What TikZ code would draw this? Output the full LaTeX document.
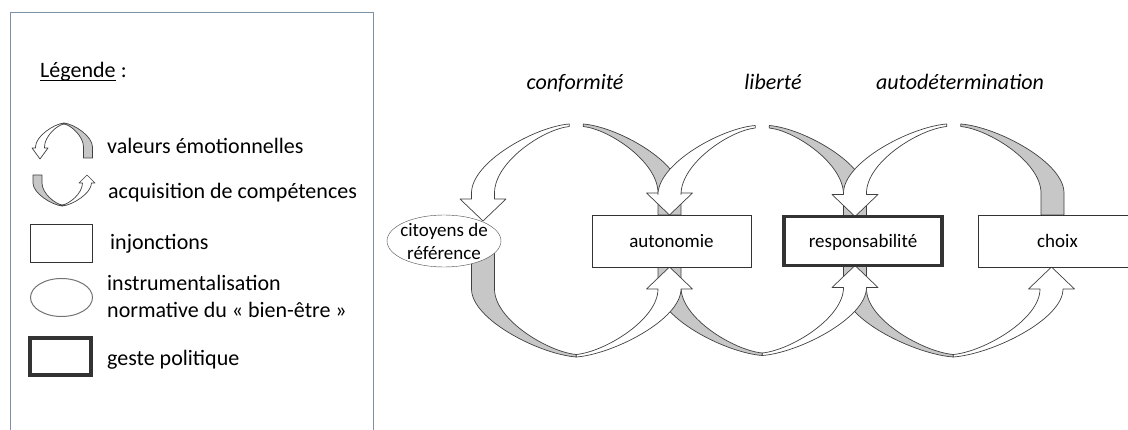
\documentclass[tikz,border=0pt]{standalone}
\usepackage{fontspec}
\setmainfont{Carlito}
\usetikzlibrary{positioning,shapes.geometric}
\pgfdeclarelayer{bg}
\pgfdeclarelayer{mid}
\pgfsetlayers{bg,mid,main}
\definecolor{frameblue}{RGB}{125,145,165}
\newdimen\lpx
\newdimen\lpy
% plain numbers (pt) of a named coordinate
\newcommand{\getxy}[3]{%
  \pgfextractx{\lpx}{\pgfpointanchor{#1}{center}}%
  \pgfextracty{\lpy}{\pgfpointanchor{#1}{center}}%
  \pgfmathsetmacro{#2}{\lpx}%
  \pgfmathsetmacro{#3}{\lpy}}
\def\lpK{0.35}
% upper loop: white arrow down to #1, grey band down to #2
\newcommand{\valeurs}[2]{%
  \getxy{#1}{\lxa}{\lya}\getxy{#2}{\lxb}{\lyb}%
  \pgfmathsetmacro{\lxw}{(\lxa+\lxb)/2-\lpG}%
  \pgfmathsetmacro{\lxg}{(\lxa+\lxb)/2+\lpG}%
  \pgfmathsetmacro{\lbase}{\lyb+\lpL}%
  \pgfmathsetmacro{\ltop}{\lbase+\lpR}%
  \pgfmathsetmacro{\lhead}{\lya+\lpL}%
  \begin{pgfonlayer}{bg}
    \draw[greyband] (\lxg,\ltop)
      .. controls ({\lxg+\lpK*(\lxb+\lpW-\lxg)},{\ltop-0.04*\lpR}) and (\lxb+\lpW,{\lbase+0.45*\lpR}) .. (\lxb+\lpW,\lbase)
      -- (\lxb+\lpW,\lyb) -- (\lxb-\lpW,\lyb) -- (\lxb-\lpW,\lbase)
      .. controls (\lxb-\lpW,{\lbase+0.45*\lpR}) and ({\lxg+\lpK*(\lxb-\lpW-\lxg)},{\ltop-\lpT-0.04*\lpR}) .. (\lxg,{\ltop-\lpT})
      -- cycle;
  \end{pgfonlayer}
  \begin{pgfonlayer}{mid}
    \draw[whiteband] (\lxw,\ltop)
      .. controls ({\lxw-\lpK*(\lxw-\lxa+\lpW)},{\ltop-0.04*\lpR}) and (\lxa-\lpW,{\lbase+0.45*\lpR}) .. (\lxa-\lpW,\lbase)
      -- (\lxa-\lpW,\lhead) -- (\lxa-\lpH,\lhead) -- (\lxa,\lya) -- (\lxa+\lpH,\lhead)
      -- (\lxa+\lpW,\lhead) -- (\lxa+\lpW,\lbase)
      .. controls (\lxa+\lpW,{\lbase+0.45*\lpR}) and ({\lxw-\lpK*(\lxw-\lxa-\lpW)},{\ltop-\lpT-0.04*\lpR}) .. (\lxw,{\ltop-\lpT})
      -- cycle;
  \end{pgfonlayer}}
% lower loop: grey band from #1, white arrow up to #2
\newcommand{\acquis}[2]{%
  \getxy{#1}{\lxa}{\lya}\getxy{#2}{\lxb}{\lyb}%
  \pgfmathsetmacro{\lxm}{(\lxa+\lxb)/2}%
  \pgfmathsetmacro{\lbase}{\lyb-\lpL}%
  \pgfmathsetmacro{\lbot}{\lbase-\lpR}%
  \begin{pgfonlayer}{bg}
    \draw[greyband] (\lxa-\lpW,\lya) -- (\lxa-\lpW,\lbase)
      .. controls (\lxa-\lpW,{\lbase-0.45*\lpR}) and ({\lxm-\lpK*(\lxm-\lxa+\lpW)},{\lbot+0.04*\lpR}) .. (\lxm,\lbot)
      -- (\lxm,{\lbot+\lpT})
      .. controls ({\lxm-\lpK*(\lxm-\lxa-\lpW)},{\lbot+\lpT+0.04*\lpR}) and (\lxa+\lpW,{\lbase-0.45*\lpR}) .. (\lxa+\lpW,\lbase)
      -- (\lxa+\lpW,\lya) -- cycle;
  \end{pgfonlayer}
  \begin{pgfonlayer}{mid}
    \draw[whiteband] (\lxm,\lbot)
      .. controls ({\lxm+\lpK*(\lxb+\lpW-\lxm)},{\lbot+0.04*\lpR}) and (\lxb+\lpW,{\lbase-0.45*\lpR}) .. (\lxb+\lpW,\lbase)
      -- (\lxb+\lpH,\lbase) -- (\lxb,\lyb) -- (\lxb-\lpH,\lbase) -- (\lxb-\lpW,\lbase)
      .. controls (\lxb-\lpW,{\lbase-0.45*\lpR}) and ({\lxm+\lpK*(\lxb-\lpW-\lxm)},{\lbot+\lpT+0.04*\lpR}) .. (\lxm,{\lbot+\lpT})
      -- cycle;
  \end{pgfonlayer}}

\begin{document}
\begin{tikzpicture}[x=1pt,y=1pt,
  injbox/.style={draw=black!80,fill=white,minimum width=159pt,minimum height=52pt,
    inner sep=0pt,outer sep=0pt,text height=14pt,text depth=0pt,font=\fontsize{19}{23}\selectfont},
  polbox/.style={injbox,line width=3.3pt,minimum width=158pt,minimum height=49pt},
  refell/.style={injbox,ellipse,draw=black!70,minimum width=114pt,inner sep=-7pt,
    text height=,text depth=,align=center},
  greyband/.style={draw=black!75,line width=0.7pt,fill=black!22,line join=round},
  whiteband/.style={draw=black!75,line width=0.7pt,fill=white,line join=round},
  legtext/.style={anchor=base west,inner sep=0pt,font=\fontsize{22}{27}\selectfont},
  lab/.style={anchor=base,inner sep=0pt,font=\fontsize{22}{27}\selectfont\itshape}]
\useasboundingbox (0,0) rectangle (1128,429);

% legend
\draw[frameblue,line width=1pt] (10,-20) -- (10,416) -- (373,416) -- (373,-20);
\node[legtext] (leg) at (40,351) {Légende};
\node[legtext] (legc) at ([xshift=5pt]leg.base east) {:};
\draw[line width=1pt] ([yshift=-2.5pt]leg.base west) -- ([yshift=-2.5pt]leg.base east);
\node[legtext] (lval) at (107,275) {valeurs émotionnelles};
\node[legtext] (lacq) at (108,230) {acquisition de compétences};
\node[injbox,line width=1pt,minimum width=62pt,minimum height=38pt] (linj) at (61.5,185.5) {};
\node[legtext] (linjt) at (110,179) {injonctions};
\node[ellipse,draw=black!55,line width=1pt,minimum width=62pt,minimum height=38pt] (lell) at (61.5,131.5) {};
\node[legtext] (lellt) at (107,139) {instrumentalisation};
\node[legtext] (lellu) at (107,112) {normative du « bien-être »};
\node[polbox,line width=4pt,minimum width=61pt,minimum height=37pt] (lpol) at (60.5,72.5) {};
\node[legtext] (lpolt) at (107,64) {geste politique};
\coordinate (lvW) at (40,270);
\coordinate (lvG) at (88,271);
\coordinate (laG) at (37.5,254);
\coordinate (laW) at (87,254);
\def\lpW{4.5}\def\lpH{8}\def\lpG{0}\def\lpT{1}
\def\lpR{24}\def\lpL{11}
\valeurs{lvW}{lvG}
\def\lpR{23}\def\lpL{8}
\acquis{laG}{laW}

% diagram
\node[refell] (cit) at (444,188) {citoyens de\\référence};
\node[injbox, right=91pt of cit] (aut) {autonomie};
\node[polbox, right=33pt of aut] (res) {responsabilité};
\node[injbox, right=36pt of res] (cho) {choix};

\node[lab] (conf) at (575,339) {conformité};
\node[lab] (lib) at (773,339) {liberté};
\node[lab] (autod) at (960,339) {autodétermination};

\coordinate (citT) at ([xshift=39pt,yshift=-6pt]cit.north);
\coordinate (citB) at ([xshift=39pt]cit.center);
\coordinate (autT) at ([xshift=-2pt]aut.north);
\coordinate (autB) at ([xshift=-2pt]aut.south);
\coordinate (resT) at ([xshift=-8pt]res.north);
\coordinate (resB) at ([xshift=-8pt]res.south);
\coordinate (choT) at ([xshift=-5pt]cho.north);
\coordinate (choB) at ([xshift=-6pt]cho.south);

\def\lpW{11.5}\def\lpH{23}\def\lpL{22}\def\lpG{7}\def\lpT{2.5}
\def\lpR{69}
\valeurs{citT}{autT}
\valeurs{autT}{resT}
\valeurs{resT}{choT}
\def\lpR{68}
\acquis{citB}{autB}
\acquis{autB}{resB}
\acquis{resB}{choB}
\end{tikzpicture}
\end{document}
